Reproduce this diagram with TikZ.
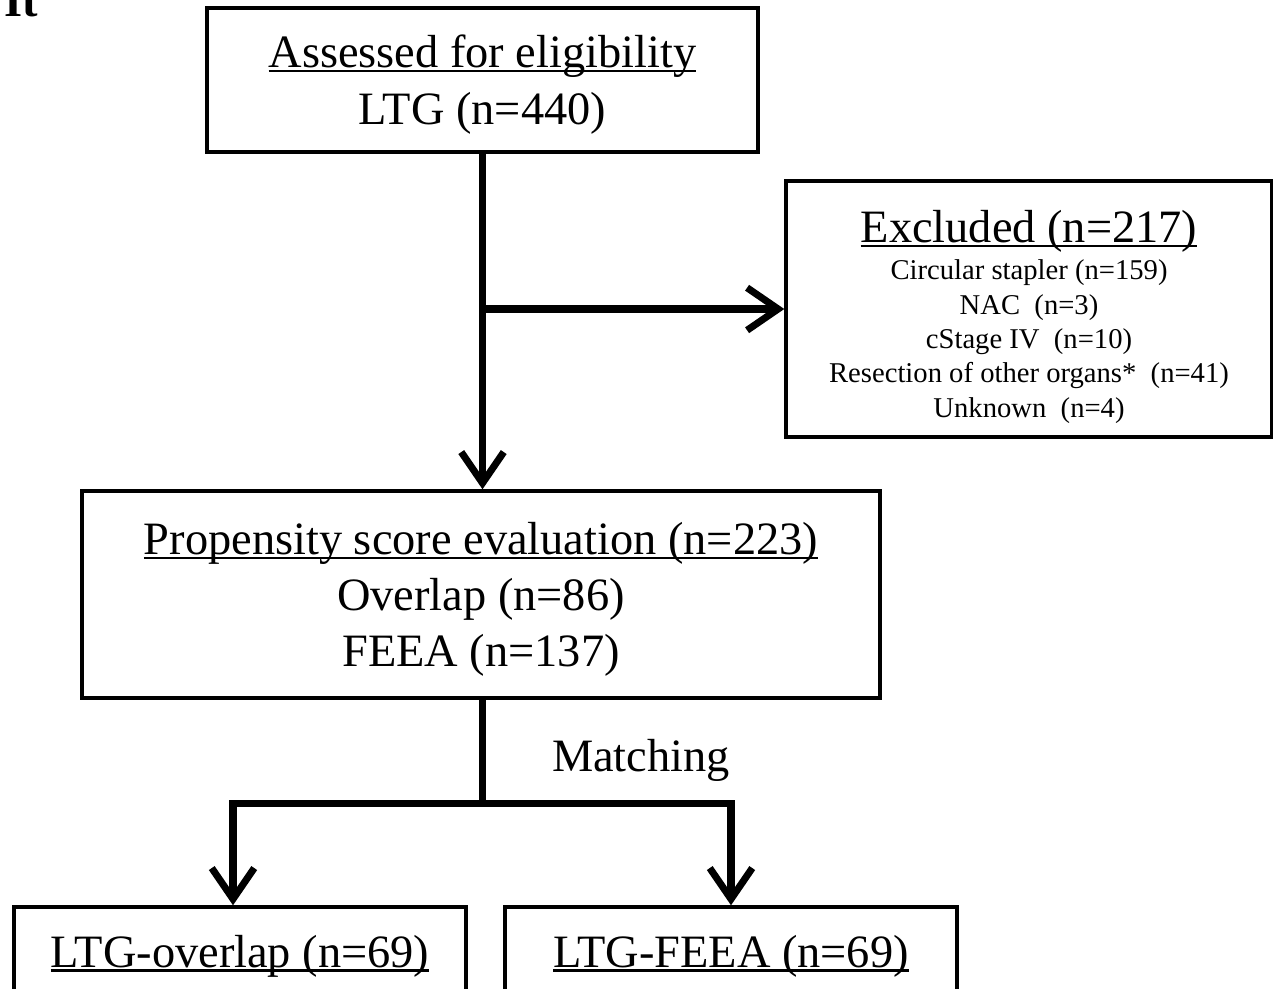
\documentclass[tikz,border=0pt]{standalone}
\usepackage{fontspec}
\setmainfont{Liberation Serif}
\usetikzlibrary{arrows.meta}
\newcommand\bigfnt{\fontsize{26.4}{32}\selectfont}
\newcommand\smallfnt{\fontsize{16.3}{19.6}\selectfont}
\newcommand\myul[1]{\setbox0\hbox{#1}\rlap{\rule[-0.1em]{\wd0}{0.05em}}\box0}
\begin{document}
\begin{tikzpicture}[x=0.02cm,y=-0.02cm,
  box/.style={draw, line width=2pt, inner sep=0pt},
  txt/.style={inner sep=0pt, align=center, font=\bigfnt},
  trunk/.style={line width=4pt},
  conn/.style={line width=4pt, -{Straight Barb[length=0.62cm,width=0.85cm]}},
]
\useasboundingbox (0,0) rectangle (1273,988);
\node[anchor=base west, inner sep=0pt, font=\bigfnt\bfseries] (lbl) at (4,16) {It};

% boxes
\node[box, minimum width=11.02cm, minimum height=2.88cm] (top) at (482.5,80) {};
\node[box, minimum width=9.72cm, minimum height=5.12cm] (excl) at (1029,309) {};
\node[box, minimum width=15.96cm, minimum height=4.14cm] (prop) at (481,594.5) {};
\node[box, minimum width=9.04cm, minimum height=1.84cm] (lt) at (240,953) {};
\node[box, minimum width=9.04cm, minimum height=1.84cm] (rt) at (731,953) {};

% texts
\node[txt] (toptxt) at ([yshift=-0.09cm]top.center)
  {\myul{Assessed for eligibility}\\ LTG (n=440)};
\node[txt, font=\smallfnt] (excltxt) at ([yshift=-0.16cm]excl.center)
  {{\bigfnt\myul{Excluded (n=217)}}\\[1.4pt]
   Circular stapler (n=159)\\
   NAC\ \ (n=3)\\
   cStage IV\ \ (n=10)\\
   Resection of other organs*\ \ (n=41)\\
   Unknown\ \ (n=4)};
\node[txt] (proptxt) at ([yshift=-0.1cm]prop.center)
  {\myul{Propensity score evaluation (n=223)}\\ Overlap\ (n=86)\\ FEEA (n=137)};
\node[txt] (lttxt) at ([yshift=-0.06cm]lt.center) {\myul{LTG-overlap (n=69)}};
\node[txt] (rttxt) at ([yshift=-0.06cm]rt.center) {\myul{LTG-FEEA (n=69)}};
\node[txt] (match) at (641,760) {Matching};

% connectors
\draw[conn] (top.south) -- (top.south |- prop.north);
\draw[conn] (top.south |- excl.west) -- (excl.west);
\path (top.south |- prop.south) ++(0,104) coordinate (split);
\draw[trunk] (top.south |- prop.south) -- (split);
\draw[conn] (split) -| ([xshift=-0.14cm]lt.north);
\draw[conn] (split) -| (rt.north);
\end{tikzpicture}
\end{document}
